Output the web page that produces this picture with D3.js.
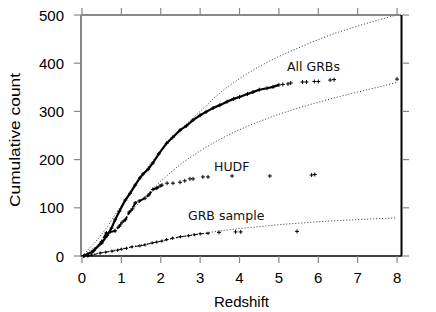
<!DOCTYPE html>
<html lang="en">
<head>
<meta charset="UTF-8">
<title>Cumulative redshift distribution</title>
<script src="https://d3js.org/d3.v7.min.js"></script>
<style>
  body { margin: 0; background: #fff; }
  svg { display: block; }
  .tick-label { font-family: "Liberation Sans", Arial, sans-serif; font-size: 15px; fill: #000; }
  .note { font-family: "DejaVu Sans", sans-serif; font-size: 12.5px; fill: #111; }
</style>
</head>
<body>
<script>
// x ticks / y ticks
const xTicks = [0, 1, 2, 3, 4, 5, 6, 7, 8];
const yTicks = [0, 100, 200, 300, 400, 500];

// All GRBs: dense part (redshift, cumulative count)
const allZ = [0.05, 0.25, 0.5, 0.64, 0.75, 0.84, 0.95, 1.1, 1.22, 1.35, 1.47, 1.55, 1.68, 1.8, 1.95, 2.15, 2.3, 2.49, 2.65, 2.82, 3.0, 3.15, 3.33, 3.5, 3.68, 3.85, 4.0, 4.2, 4.34, 4.5, 4.7, 4.85, 5.0];
const allN = [0, 8, 27, 43, 58, 75, 93, 116, 130, 147, 162, 170, 180, 193, 212, 234, 246, 261, 270, 282, 292, 299, 307, 313, 320, 326, 330, 336, 340, 345, 348, 351, 355];
// All GRBs: sparse tail
const allTailZ = [5.1, 5.23, 5.3, 5.6, 5.7, 5.9, 6.0, 6.3, 6.4, 8.0];
const allTailN = [356, 357, 359, 361, 361, 362, 362, 365, 366, 367];

// HUDF
const hudfZ = [0.05, 0.3, 0.5, 0.62, 0.84, 0.95, 1.02, 1.1, 1.2, 1.28, 1.35, 1.45, 1.6, 1.7, 1.8, 1.9, 1.98, 2.03];
const hudfN = [0, 11, 30, 48, 52, 62, 70, 75, 91, 98, 110, 114, 120, 127, 138, 141, 145, 147];
const hudfTailZ = [2.16, 2.31, 2.49, 2.61, 2.74, 2.82, 3.07, 3.2, 3.81, 4.77, 5.83, 5.91];
const hudfTailN = [151, 151, 153, 156, 160, 160, 164, 164, 166, 166, 168, 169];

// GRB sample
const sampleZ = [0.15, 0.25, 0.46, 0.6, 0.76, 0.9, 1.0, 1.13, 1.27, 1.47, 1.6, 1.78, 1.9, 2.03, 2.15, 2.3, 2.5, 2.7, 2.85, 3.0, 3.2];
const sampleN = [0, 2, 6, 8, 10, 12, 14, 16, 19, 21, 23, 27, 29, 31, 34, 37, 40, 42, 44, 46, 47];
const sampleTailZ = [3.48, 3.9, 4.03, 5.46];
const sampleTailN = [49, 50, 50, 51];

// model curves (dotted)
const modelZ = [0, 0.5, 1, 1.5, 2, 2.5, 3, 3.5, 4, 4.5, 5, 5.5, 6, 6.5, 7, 7.5, 8];
const modelAll = [0, 45, 105, 165, 218, 262, 300, 338, 368, 393, 414, 432, 449, 464, 477, 489, 500];
const modelHudf = [0, 30, 70, 115, 155, 190, 218, 242, 262, 279, 294, 307, 319, 330, 340, 350, 360];
const modelSample = [0, 7, 15, 23, 31, 39, 46, 52, 57, 61, 65, 68, 71, 73.5, 75.5, 77.5, 79];

const width = 436, height = 312;
const pl = 82, pr = 401, pt = 15, pb = 256;

const svg = d3.select("body").append("svg")
    .attr("width", width)
    .attr("height", height);

const x = d3.scaleLinear().domain([0, 8.1]).range([pl, pr]);
const y = d3.scaleLinear().domain([0, 500]).range([pb, pt]);

const zip = (a, b) => a.map((v, i) => [v, b[i]]);
const line = d3.line().x(d => x(d[0])).y(d => y(d[1]));
const smooth = d3.line().x(d => x(d[0])).y(d => y(d[1])).curve(d3.curveMonotoneX);

// model curves
[modelAll, modelHudf, modelSample].forEach(m => {
    svg.append("path")
        .attr("d", smooth(zip(modelZ, m)))
        .attr("fill", "none")
        .attr("stroke", "#333")
        .attr("stroke-width", 1)
        .attr("stroke-dasharray", "1,2");
});

// plus markers
function plus(g, pts, size) {
    g.selectAll(null)
        .data(pts)
        .enter().append("path")
        .attr("d", d => `M${x(d[0]) - size},${y(d[1])}h${2 * size}M${x(d[0])},${y(d[1]) - size}v${2 * size}`)
        .attr("stroke", "#000")
        .attr("stroke-width", 1);
}

// All GRBs
svg.append("path")
    .attr("d", line(zip(allZ, allN)))
    .attr("fill", "none").attr("stroke", "#000").attr("stroke-width", 2.2);
plus(svg.append("g"), zip(allZ, allN), 2);
plus(svg.append("g"), zip(allTailZ, allTailN), 2);

// HUDF
svg.append("path")
    .attr("d", line(zip(hudfZ, hudfN)))
    .attr("fill", "none").attr("stroke", "#000").attr("stroke-width", 2)
    .attr("stroke-dasharray", "7,2");
plus(svg.append("g"), zip(hudfZ, hudfN), 2);
plus(svg.append("g"), zip(hudfTailZ, hudfTailN), 2);

// GRB sample
svg.append("path")
    .attr("d", line(zip(sampleZ, sampleN)))
    .attr("fill", "none").attr("stroke", "#000").attr("stroke-width", 1)
    .attr("stroke-dasharray", "4,2");
plus(svg.append("g"), zip(sampleZ, sampleN), 1.6);
plus(svg.append("g"), zip(sampleTailZ, sampleTailN), 2);

// frame: left/top gray, right/bottom black
const tickLen = 7;
const gray = "#888";
svg.append("line").attr("x1", pl - 1).attr("x2", pl - 1).attr("y1", pt).attr("y2", pb + 1)
    .attr("stroke", gray).attr("stroke-width", 2);
svg.append("line").attr("x1", pl - 1).attr("x2", pr).attr("y1", pt).attr("y2", pt)
    .attr("stroke", gray).attr("stroke-width", 2);
svg.append("line").attr("x1", pr + 0.5).attr("x2", pr + 0.5).attr("y1", pt).attr("y2", pb)
    .attr("stroke", "#000").attr("stroke-width", 2);
svg.append("line").attr("x1", pl - 1).attr("x2", pr + 1).attr("y1", pb).attr("y2", pb)
    .attr("stroke", "#000").attr("stroke-width", 1.5);

// ticks
xTicks.forEach(t => {
    svg.append("line").attr("x1", x(t)).attr("x2", x(t)).attr("y1", pb).attr("y2", pb + tickLen)
        .attr("stroke", gray).attr("stroke-width", 1.2);
    svg.append("line").attr("x1", x(t)).attr("x2", x(t)).attr("y1", pt).attr("y2", pt - tickLen)
        .attr("stroke", gray).attr("stroke-width", 1.2);
    svg.append("text").attr("class", "tick-label")
        .attr("x", x(t)).attr("y", pb + 27)
        .attr("text-anchor", "middle").text(t);
});
yTicks.forEach(t => {
    svg.append("line").attr("x1", pl - 1).attr("x2", pl - 1 - tickLen).attr("y1", y(t)).attr("y2", y(t))
        .attr("stroke", gray).attr("stroke-width", 1.2);
    svg.append("line").attr("x1", pr + 1).attr("x2", pr + 1 + tickLen).attr("y1", y(t)).attr("y2", y(t))
        .attr("stroke", gray).attr("stroke-width", 1.2);
    svg.append("text").attr("class", "tick-label")
        .attr("x", 64).attr("y", y(t) + 5.5)
        .attr("text-anchor", "end").text(t);
});

// axis titles
svg.append("text").attr("class", "tick-label")
    .attr("x", (pl + pr) / 2).attr("y", 307)
    .attr("text-anchor", "middle").text("Redshift");
svg.append("text").attr("class", "tick-label")
    .attr("transform", "translate(20,140) rotate(-90)")
    .attr("text-anchor", "middle")
    .attr("textLength", 134).attr("lengthAdjust", "spacingAndGlyphs")
    .text("Cumulative count");

// series labels
svg.append("text").attr("class", "note").attr("x", 287).attr("y", 71).text("All GRBs");
svg.append("text").attr("class", "note").attr("x", 214).attr("y", 171).text("HUDF");
svg.append("text").attr("class", "note").attr("x", 188).attr("y", 220).text("GRB sample");
</script>
</body>
</html>
